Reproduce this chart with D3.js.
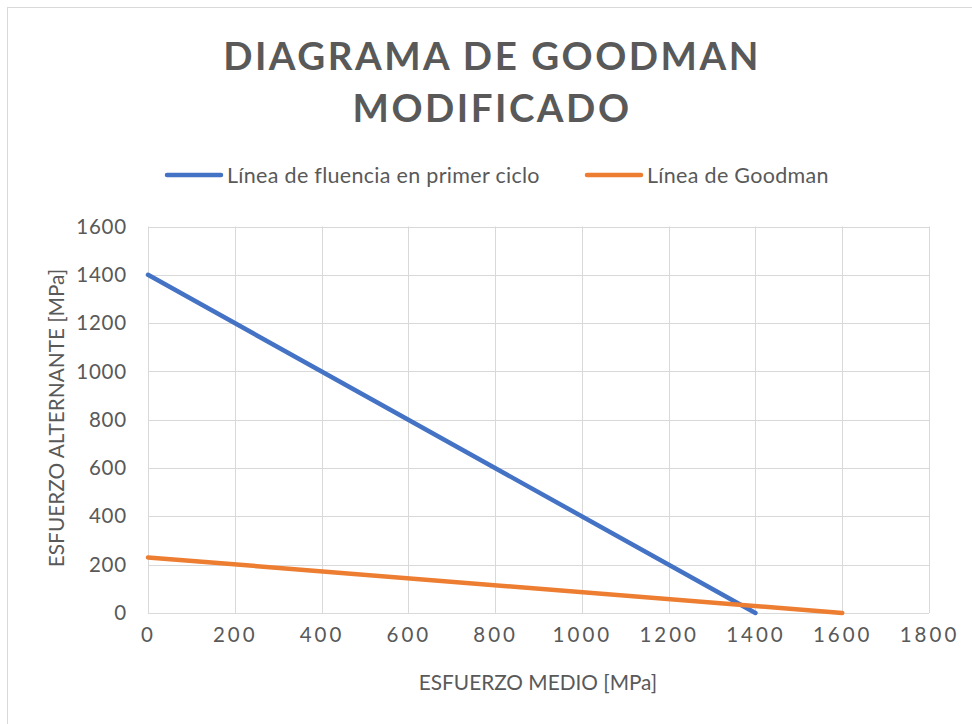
<!DOCTYPE html>
<html>
<head>
<meta charset="utf-8">
<script src="https://cdn.jsdelivr.net/npm/d3@7"></script>
<style>
  html, body { margin: 0; padding: 0; background: #fff; }
  svg { display: block; }
  text { font-family: Lato, "Open Sans", sans-serif; fill: #595959; }
</style>
</head>
<body>
<svg id="chart" width="972" height="724"></svg>
<script>
// Series: each is a straight line given by its two end points (mean stress, alternating stress)
const seriesNames = ["Línea de fluencia en primer ciclo", "Línea de Goodman"];
const seriesColors = ["#4472c4", "#ed7d31"];
const yieldMean = [0, 1400];
const yieldAlt = [1400, 0];
const goodmanMean = [0, 1600];
const goodmanAlt = [230, 0];

const xTicks = [0, 200, 400, 600, 800, 1000, 1200, 1400, 1600, 1800];
const yTicks = [0, 200, 400, 600, 800, 1000, 1200, 1400, 1600];

const titleLines = ["DIAGRAMA DE GOODMAN", "MODIFICADO"];
const xTitle = "ESFUERZO MEDIO [MPa]";
const yTitle = "ESFUERZO ALTERNANTE [MPa]";

const svg = d3.select("#chart");
const W = 972, H = 724;
const plot = { left: 148, right: 929, top: 226.5, bottom: 613 };

// chart frame
svg.append("rect")
  .attr("x", 7.5).attr("y", 7.5)
  .attr("width", W + 10).attr("height", H + 10)
  .attr("fill", "#fff").attr("stroke", "#d9d9d9").attr("stroke-width", 1);

const x = d3.scaleLinear().domain([0, 1800]).range([plot.left, plot.right]);
const y = d3.scaleLinear().domain([0, 1600]).range([plot.bottom, plot.top]);

// gridlines
const grid = svg.append("g");
grid.selectAll("line.h").data(yTicks).join("line")
  .attr("x1", plot.left).attr("x2", plot.right)
  .attr("y1", d => Math.round(y(d)) + 0.5).attr("y2", d => Math.round(y(d)) + 0.5)
  .attr("stroke", "#d9d9d9").attr("stroke-width", 1);
grid.selectAll("line.v").data(xTicks).join("line")
  .attr("y1", plot.top).attr("y2", plot.bottom)
  .attr("x1", d => Math.round(x(d)) + 0.5).attr("x2", d => Math.round(x(d)) + 0.5)
  .attr("stroke", "#d9d9d9").attr("stroke-width", 1);

// axes (labels only, no domain lines or tick marks)
const xAxis = svg.append("g")
  .attr("transform", `translate(0,${plot.bottom})`)
  .call(d3.axisBottom(x).tickValues(xTicks).tickSize(0).tickPadding(14).tickFormat(d3.format("d")));
xAxis.select(".domain").remove();
xAxis.selectAll("text")
  .style("font-family", "Lato, 'Open Sans', sans-serif")
  .style("font-size", "20.5px").style("letter-spacing", "3px")
  .attr("fill", "#595959").attr("dy", "0.71em");

const yAxis = svg.append("g")
  .attr("transform", `translate(${plot.left},0)`)
  .call(d3.axisLeft(y).tickValues(yTicks).tickSize(0).tickPadding(21).tickFormat(d3.format("d")));
yAxis.select(".domain").remove();
yAxis.selectAll("text")
  .style("font-family", "Lato, 'Open Sans', sans-serif")
  .style("font-size", "20.5px").style("letter-spacing", "0.8px")
  .attr("fill", "#595959");

// series lines
const line = d3.line().x(d => x(d[0])).y(d => y(d[1]));
const series = [
  d3.zip(yieldMean, yieldAlt),
  d3.zip(goodmanMean, goodmanAlt)
];
svg.append("g").selectAll("path").data(series).join("path")
  .attr("d", line)
  .attr("fill", "none")
  .attr("stroke", (d, i) => seriesColors[i])
  .attr("stroke-width", 4.5)
  .attr("stroke-linecap", "round");

// title
svg.append("g").selectAll("text").data(titleLines).join("text")
  .attr("x", 492).attr("y", (d, i) => 70 + i * 52)
  .attr("text-anchor", "middle")
  .style("font-size", "38.5px").style("font-weight", "bold")
  .style("letter-spacing", "2.5px")
  .text(d => d);

// legend
const legendX = [167, 587];
const legend = svg.append("g").selectAll("g").data(seriesNames).join("g")
  .attr("transform", (d, i) => `translate(${legendX[i]},175)`);
legend.append("line")
  .attr("x1", 0).attr("x2", 54).attr("y1", 0).attr("y2", 0)
  .attr("stroke", (d, i) => seriesColors[i]).attr("stroke-width", 4.5)
  .attr("stroke-linecap", "round");
legend.append("text")
  .attr("x", 60).attr("y", 0).attr("dy", "0.35em")
  .style("font-size", "21.5px").style("letter-spacing", "0.3px")
  .text(d => d);

// axis titles
svg.append("text")
  .attr("x", 538).attr("y", 690)
  .attr("text-anchor", "middle")
  .style("font-size", "20.8px")
  .text(xTitle);
svg.append("text")
  .attr("transform", `translate(64,418) rotate(-90)`)
  .attr("text-anchor", "middle")
  .style("font-size", "20.8px")
  .text(yTitle);
</script>
</body>
</html>
